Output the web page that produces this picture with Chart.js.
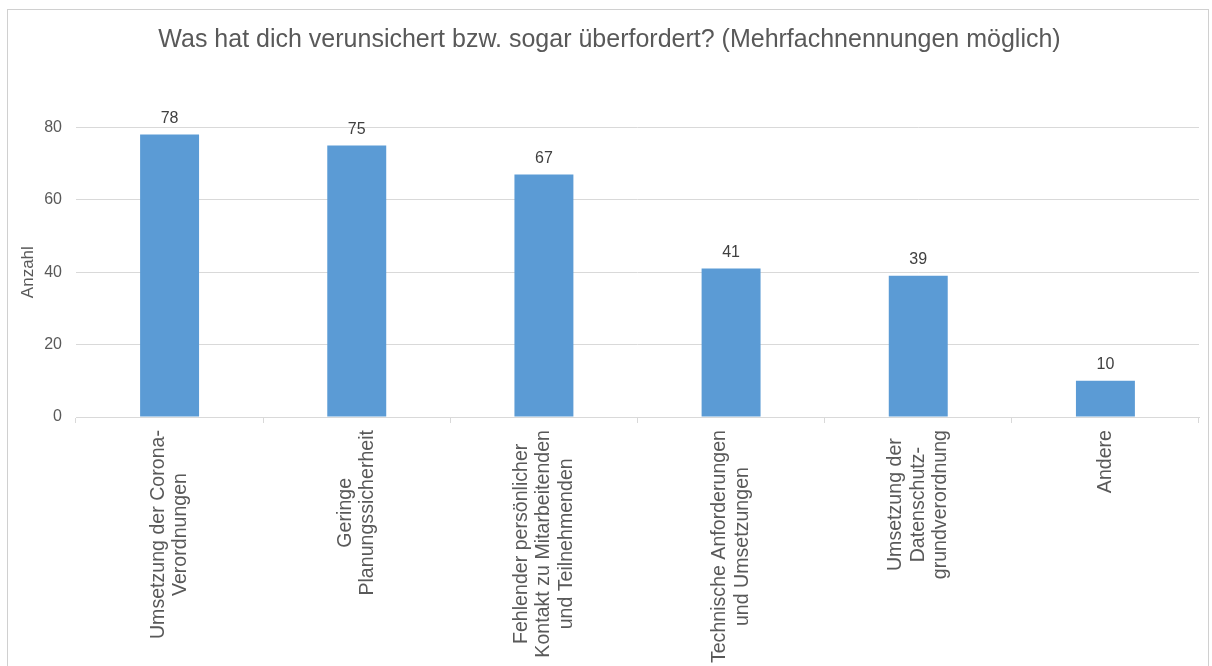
<!DOCTYPE html>
<html>
<head>
<meta charset="utf-8">
<script src="https://cdn.jsdelivr.net/npm/chart.js@4/dist/chart.umd.min.js"></script>
<style>
  html, body { margin: 0; padding: 0; background: #fff; overflow: hidden; }
  #wrap { position: relative; width: 1212px; height: 666px; }
  #frame { position: absolute; left: 7px; top: 9px; width: 1202px; height: 700px; border: 1px solid #d0d0d0; box-sizing: border-box; }
  #chart { position: absolute; left: 0; top: 0; }
</style>
</head>
<body>
<div id="wrap">
  <div id="frame"></div>
  <canvas id="chart" width="1212" height="666"></canvas>
</div>
<script>
const categories = [
  ['Umsetzung der Corona-', 'Verordnungen'],
  ['Geringe', 'Planungssicherheit'],
  ['Fehlender persönlicher', 'Kontakt zu Mitarbeitenden', 'und Teilnehmenden'],
  ['Technische Anforderungen', 'und Umsetzungen'],
  ['Umsetzung der', 'Datenschutz-', 'grundverordnung'],
  ['Andere']
];
const counts = [78, 75, 67, 41, 39, 10];
const yTicks = [0, 20, 40, 60, 80];

const FONT = "'Liberation Sans', Arial, sans-serif";
const TEXT = '#595959';
const GRID = '#d9d9d9';

Chart.defaults.font.family = FONT;
Chart.defaults.color = TEXT;

// value above each bar
const barValues = {
  id: 'barValues',
  afterDatasetsDraw(chart) {
    const c = chart.ctx;
    const meta = chart.getDatasetMeta(0);
    c.save();
    c.font = '16px ' + FONT;
    c.fillStyle = '#404040';
    c.textAlign = 'center';
    c.textBaseline = 'bottom';
    meta.data.forEach((bar, i) => {
      c.fillText(String(counts[i]), bar.x, bar.y - 8);
    });
    c.restore();
  }
};

// rotated category labels, lines centred on each other
const categoryLabels = {
  id: 'categoryLabels',
  afterDraw(chart) {
    const c = chart.ctx;
    const xs = chart.scales.x;
    const gap = 22.5;
    c.save();
    c.font = '19.6px ' + FONT;
    c.fillStyle = TEXT;
    c.textAlign = 'center';
    c.textBaseline = 'middle';
    categories.forEach((lines, i) => {
      const x = xs.getPixelForTick(i);
      const w = Math.max(...lines.map(l => c.measureText(l).width));
      c.save();
      c.translate(x, xs.top + 13 + w / 2);
      c.rotate(-Math.PI / 2);
      lines.forEach((line, j) => {
        c.fillText(line, 0, (j - (lines.length - 1) / 2) * gap);
      });
      c.restore();
    });
    c.restore();
  }
};

new Chart(document.getElementById('chart'), {
  type: 'bar',
  data: {
    labels: categories.map(l => l.join(' ')),
    datasets: [{
      label: 'Anzahl',
      data: counts,
      backgroundColor: '#5b9bd5',
      barPercentage: 0.315,
      categoryPercentage: 1
    }]
  },
  options: {
    responsive: false,
    animation: false,
    layout: { padding: { top: 0, left: 20, right: 13, bottom: 0 } },
    plugins: {
      legend: { display: false },
      tooltip: { enabled: false },
      title: {
        display: true,
        text: 'Was hat dich verunsichert bzw. sogar überfordert? (Mehrfachnennungen möglich)',
        color: TEXT,
        font: { size: 25, weight: 'normal' },
        padding: { top: 25, bottom: 72.3 }
      }
    },
    scales: {
      x: {
        ticks: { display: false },
        grid: { drawOnChartArea: false, drawTicks: true, tickLength: 6, color: GRID },
        border: { display: true, color: GRID },
        afterFit(scale) { scale.height = 249; }
      },
      y: {
        min: 0,
        max: 80,
        afterBuildTicks(scale) { scale.ticks = yTicks.map(v => ({ value: v })); },
        ticks: { padding: 14, font: { size: 16 }, color: TEXT },
        grid: { color: GRID, drawTicks: false },
        border: { display: false },
        title: {
          display: true,
          text: 'Anzahl',
          color: TEXT,
          font: { size: 17 },
          padding: { top: -2, bottom: 0 }
        },
        afterFit(scale) { scale.width = 56; }
      }
    }
  },
  plugins: [barValues, categoryLabels]
});
</script>
</body>
</html>
